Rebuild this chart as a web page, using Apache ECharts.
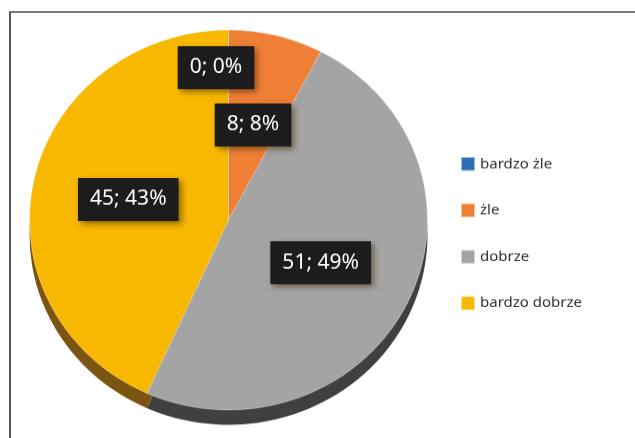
<!DOCTYPE html>
<html>
<head>
<meta charset="utf-8">
<script src="https://cdn.jsdelivr.net/npm/echarts@6/dist/echarts.min.js"></script>
<style>
html,body{margin:0;padding:0;background:#fff;overflow:hidden;}
#frame{position:absolute;left:9px;top:11px;width:640px;height:440px;border-top:2px solid #7a7a7a;border-left:2px solid #555;box-sizing:border-box;}
#chart{position:absolute;left:0;top:0;width:635px;height:438px;transform:scaleY(0.955);transform-origin:0 220px;}
</style>
</head>
<body>
<div id="frame"></div>
<div id="chart"></div>
<script>
const categories = ['bardzo żle', 'żle', 'dobrze', 'bardzo dobrze'];
const values = [0, 8, 51, 45];
const percentLabels = ['0%', '8%', '49%', '43%'];
const topColors = ['#2e6db5', '#f07f36', '#a5a4a5', '#f9b800'];
const sideColors = ['#1d4676', '#98501f', '#404040', '#7b5411'];

const chart = echarts.init(document.getElementById('chart'), null, {renderer: 'canvas'});

const topData = categories.map((c, i) => ({name: c, value: values[i], itemStyle: {color: topColors[i]}}));
const sideData = categories.map((c, i) => ({name: c, value: values[i], itemStyle: {color: sideColors[i]}}));

chart.setOption({
  animation: false,
  legend: {
    orient: 'vertical',
    left: 460,
    top: 153,
    padding: 0,
    itemWidth: 14,
    itemHeight: 14.6,
    itemGap: 32,
    icon: 'rect',
    selectedMode: false,
    data: categories,
    textStyle: {fontFamily: 'Noto Sans', fontSize: 15, color: '#2e2e2e', lineHeight: 15}
  },
  series: [
    {
      type: 'pie',
      name: 'top',
      z: 3,
      center: [228.5, 220],
      radius: ['0%', 199],
      startAngle: 90,
      clockwise: true,
      minShowLabelAngle: 0,
      data: topData,
      itemStyle: {borderColor: 'rgba(255,255,255,0.55)', borderWidth: 0.6},
      emphasis: {disabled: true},
      label: {
        show: true,
        position: 'inside',
        formatter: p => p.value + '; ' + percentLabels[p.dataIndex],
        fontFamily: 'Noto Sans',
        fontSize: 21,
        lineHeight: 24,
        color: '#ffffff',
        backgroundColor: '#1c1c1c',
        padding: [11, 12, 10, 12],
        shadowColor: 'rgba(60,40,0,0.55)',
        shadowBlur: 6,
        shadowOffsetX: 3,
        shadowOffsetY: 3
      },
      labelLayout: p => p.dataIndex === 0 ? {dx: -12.5, dy: -57} : {},
      labelLine: {show: false}
    },
    {
      type: 'pie',
      name: 'side',
      z: 1,
      silent: true,
      center: [228.5, 235.5],
      radius: ['0%', 199],
      startAngle: 90,
      clockwise: true,
      data: sideData,
      label: {show: false},
      labelLine: {show: false},
      emphasis: {disabled: true}
    }
  ]
});
</script>
</body>
</html>
